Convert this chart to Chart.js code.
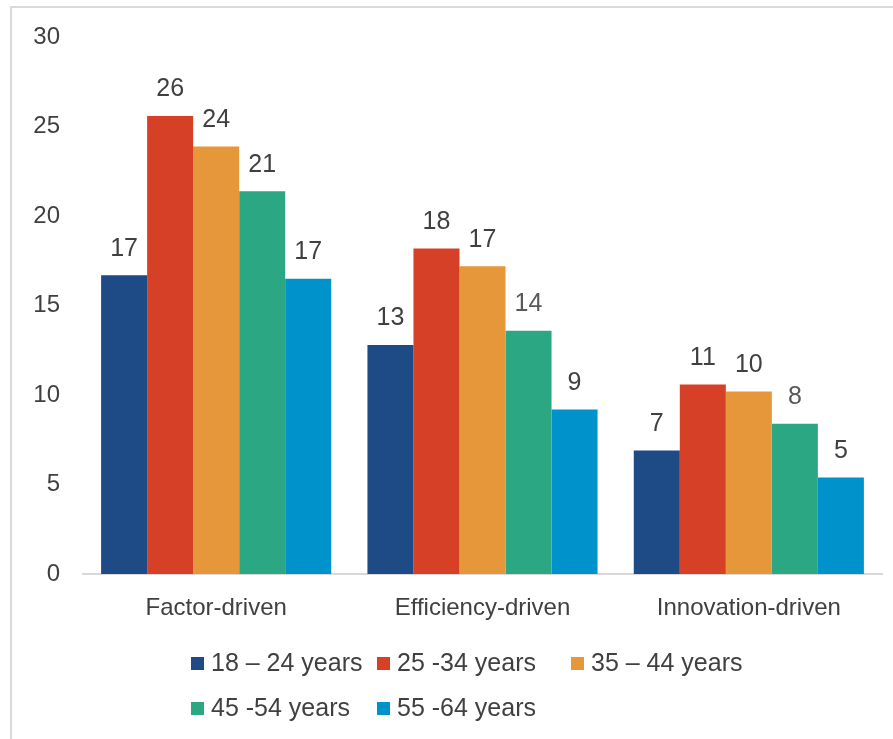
<!DOCTYPE html>
<html>
<head>
<meta charset="utf-8">
<script src="https://cdn.jsdelivr.net/npm/chart.js@4"></script>
<style>
  html, body { margin: 0; padding: 0; background: #fff; }
  #frame {
    position: absolute; left: 10px; top: 6px; width: 883px; height: 733px;
    border-left: 2px solid #d9d9d9; border-top: 2px solid #d9d9d9;
  }
  #wrap { position: absolute; left: 0; top: 0; width: 893px; height: 739px; }
</style>
</head>
<body>
<div id="frame"></div>
<div id="wrap"><canvas id="myChart" width="893" height="739"></canvas></div>
<script>
// categories and series
const categories = ['Factor-driven', 'Efficiency-driven', 'Innovation-driven'];
const seriesLabels = ['18 \u2013 24 years', '25 -34 years', '35 \u2013 44 years', '45 -54 years', '55 -64 years'];
const age18to24 = [16.7, 12.8, 6.9];
const age25to34 = [25.6, 18.2, 10.6];
const age35to44 = [23.9, 17.2, 10.2];
const age45to54 = [21.4, 13.6, 8.4];
const age55to64 = [16.5, 9.2, 5.4];
const yTicks = [0, 5, 10, 15, 20, 25, 30];

const colors = ['#1E4A86', '#D64027', '#E69739', '#2CA783', '#0092CA'];
const textColor = '#404040';
const FONT = '"Liberation Sans", Arial, sans-serif';

// value labels above the bars, rounded like the original
const barLabels = {
    id: 'barLabels',
    afterDatasetsDraw(chart) {
        const ctx = chart.ctx;
        ctx.save();
        ctx.font = '25px ' + FONT;
        ctx.textAlign = 'center';
        ctx.textBaseline = 'bottom';
        chart.data.datasets.forEach((ds, i) => {
            const meta = chart.getDatasetMeta(i);
            meta.data.forEach((bar, j) => {
                const v = ds.data[j];
                // the 45-54 labels of the last two groups are lighter in the source
                ctx.fillStyle = (i === 3 && j > 0) ? '#595959' : textColor;
                ctx.fillText(Math.round(v), bar.x, bar.y - 14);
            });
        });
        ctx.restore();
    }
};

// legend laid out on a 3-column grid, like the office chart
const gridLegend = {
    id: 'gridLegend',
    afterDraw(chart) {
        const ctx = chart.ctx;
        const cols = [190, 376, 570];
        const rows = [663, 708];
        ctx.save();
        ctx.font = '25px ' + FONT;
        ctx.textBaseline = 'middle';
        ctx.textAlign = 'left';
        chart.data.datasets.forEach((ds, i) => {
            const x = cols[i % 3];
            const y = rows[Math.floor(i / 3)];
            ctx.fillStyle = ds.backgroundColor;
            ctx.fillRect(x + 1, y - 6, 13, 13);
            ctx.fillStyle = textColor;
            ctx.fillText(ds.label, x + 21, y + 1);
        });
        ctx.restore();
    }
};

const seriesData = [age18to24, age25to34, age35to44, age45to54, age55to64];

const ctx = document.getElementById('myChart').getContext('2d');
const myChart = new Chart(ctx, {
    type: 'bar',
    data: {
        labels: categories,
        datasets: seriesData.map((d, i) => ({
            label: seriesLabels[i],
            data: d,
            backgroundColor: colors[i],
            borderWidth: 0,
            barPercentage: 1.0,
            categoryPercentage: 0.864
        }))
    },
    options: {
        responsive: false,
        animation: false,
        layout: { padding: { left: 0, right: 11, top: 37, bottom: 105 } },
        plugins: {
            legend: { display: false },
            tooltip: { enabled: false }
        },
        scales: {
            x: {
                grid: { display: false, drawTicks: false },
                border: { display: true, color: '#d9d9d9', width: 2 },
                ticks: { color: textColor, font: { family: FONT, size: 24 }, padding: 20 },
                afterFit(scale) { scale.height = 60; }
            },
            y: {
                min: 0,
                max: 30,
                grid: { display: false, drawTicks: false },
                border: { display: false },
                afterBuildTicks(scale) { scale.ticks = yTicks.map(v => ({ value: v })); },
                ticks: { color: textColor, font: { family: FONT, size: 24 }, padding: 23 },
                afterFit(scale) { scale.width = 83; }
            }
        }
    },
    plugins: [barLabels, gridLegend]
});
</script>
</body>
</html>
